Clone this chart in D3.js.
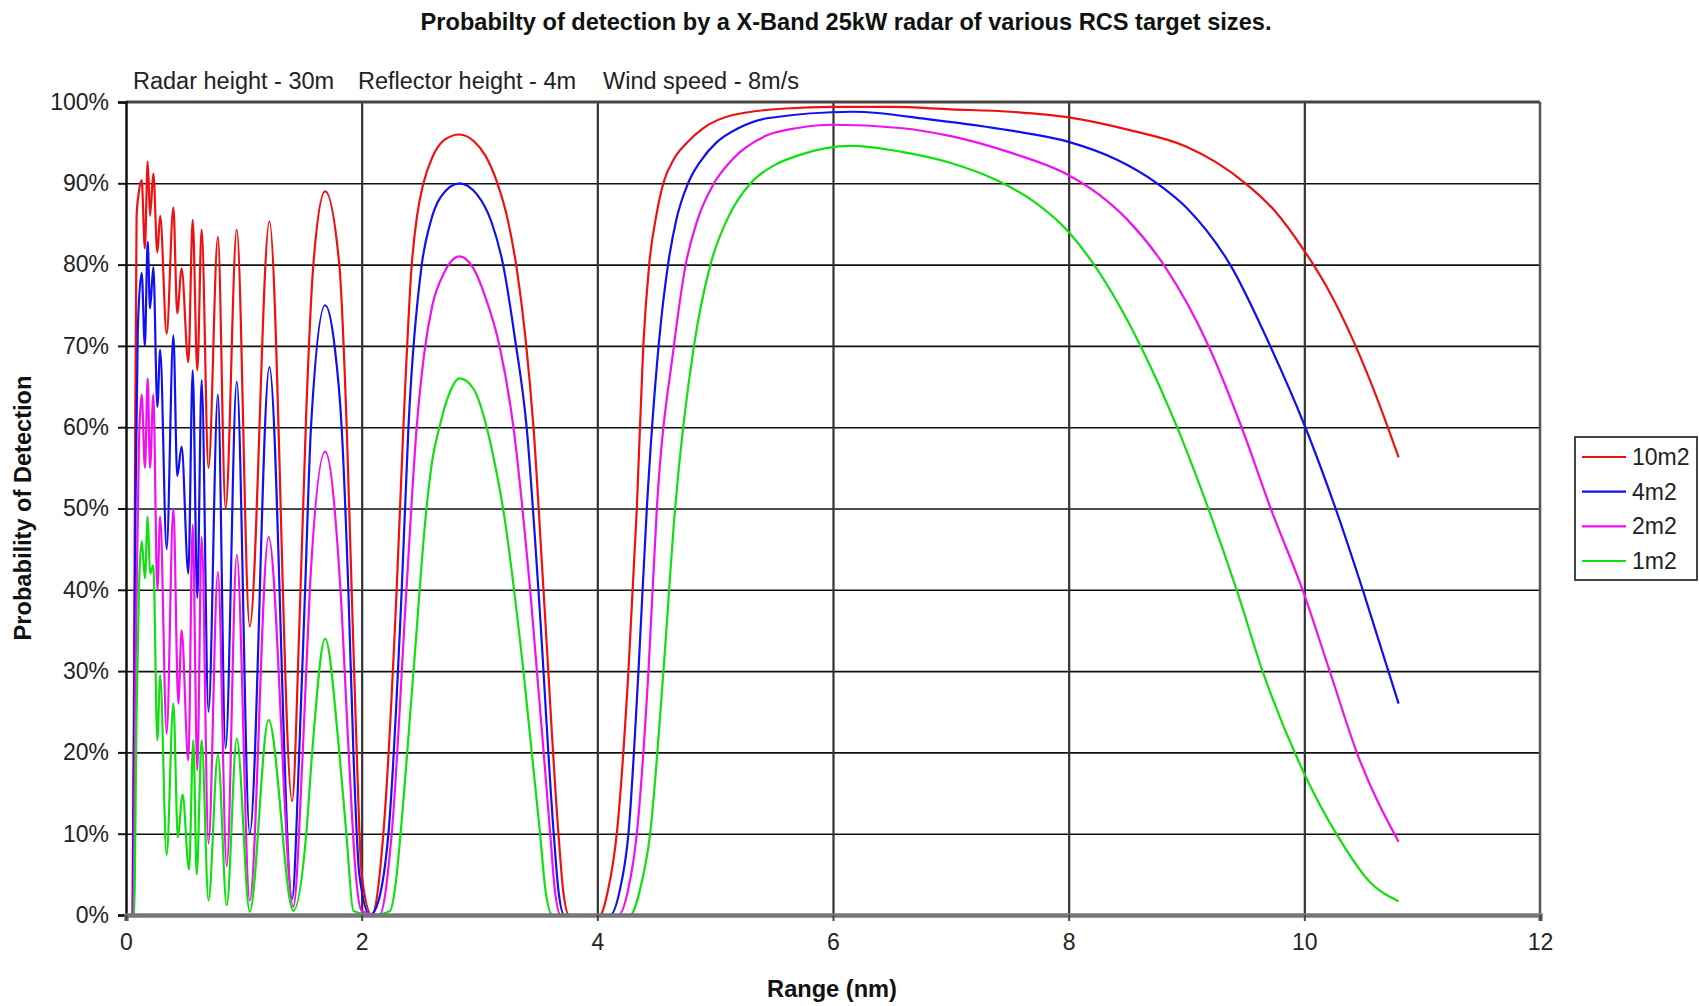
<!DOCTYPE html>
<html><head><meta charset="utf-8">
<script src="https://cdn.jsdelivr.net/npm/d3@7"></script>
<style>
body{margin:0;background:#fff;}
svg{display:block;font-family:"Liberation Sans",Arial,sans-serif;}
</style>
</head><body>
<svg id="chart" width="1699" height="1006"></svg>
<script>
// ---------- data ----------
const titleText = "Probabilty of detection by a X-Band 25kW radar of various RCS target sizes.";
const noteTexts = ["Radar height - 30m", "Reflector height - 4m", "Wind speed - 8m/s"];
const xTitle = "Range (nm)";
const yTitle = "Probability of Detection";
const xTicks = [0, 2, 4, 6, 8, 10, 12];
const yTicks = [0, 10, 20, 30, 40, 50, 60, 70, 80, 90, 100];
const seriesNames = ["10m2", "4m2", "2m2", "1m2"];
const seriesColors = ["#f01010", "#1010f0", "#f010f0", "#10e010"];

// [range nm, probability %]
const rcs10 = [[0,0],[0.055,0],[0.075,50],[0.09,86],[0.11,89],[0.133,90.4],[0.16,82],[0.184,92.7],[0.204,86],[0.232,91.2],[0.266,81.5],[0.29,86],[0.345,71.5],[0.402,87],[0.435,74],[0.472,79.5],[0.529,68],[0.566,85.5],[0.605,67],[0.642,84.3],[0.70,55],[0.78,83.4],[0.845,50],[0.94,84.3],[1.05,35.5],[1.217,85.3],[1.41,14],[1.47,35],[1.53,62],[1.59,80],[1.69,89],[1.81,80],[1.873,60],[1.915,40],[1.958,20],[2.0,5],[2.085,0],[2.184,10],[2.297,40],[2.354,60],[2.425,80],[2.47,86],[2.524,90],[2.6,93.2],[2.7,95.3],[2.83,96],[2.95,95.2],[3.05,93.4],[3.147,90.2],[3.24,85.5],[3.316,79.5],[3.39,71],[3.458,60],[3.543,40],[3.67,10],[3.71,3],[3.76,0],[4.02,0],[4.09,3],[4.165,10],[4.264,30],[4.335,50],[4.39,70],[4.44,80],[4.5,86],[4.56,90],[4.65,93],[4.76,95],[4.9,96.8],[5.15,98.4],[5.6,99.2],[6.0,99.4],[6.5,99.4],[7.0,99.1],[7.5,98.8],[8.0,98.1],[8.5,96.6],[9.0,94.5],[9.25,92.6],[9.5,90],[9.75,86.6],[10.0,81.7],[10.2,77],[10.42,70.5],[10.6,64.2],[10.8,56.3]];
const rcs4 = [[0,0],[0.058,0],[0.08,50],[0.1,72],[0.133,79],[0.16,70],[0.184,82.8],[0.204,74.6],[0.232,79.7],[0.266,62.5],[0.29,69.5],[0.345,45],[0.402,71.3],[0.435,54],[0.472,57.6],[0.529,42],[0.566,67],[0.605,39],[0.642,65.8],[0.70,25],[0.78,64],[0.845,20.5],[0.94,65.6],[1.05,10],[1.217,67.4],[1.41,2],[1.47,20],[1.52,40],[1.57,60],[1.69,75],[1.77,70],[1.83,60],[1.887,40],[1.93,20],[1.98,5],[2.07,0],[2.11,0.5],[2.227,10],[2.34,40],[2.397,60],[2.51,80],[2.58,85],[2.67,88.3],[2.83,90],[2.98,88.6],[3.1,85.3],[3.2,80],[3.3,71],[3.4,60],[3.5,40],[3.63,10],[3.67,3],[3.72,0],[4.11,0],[4.19,3],[4.264,10],[4.349,30],[4.42,50],[4.52,70],[4.6,80],[4.67,85.5],[4.77,90],[4.88,92.8],[5.01,95],[5.2,96.8],[5.44,98],[6.17,98.8],[6.85,97.8],[7.5,96.5],[8.0,95.1],[8.41,92.9],[8.75,90],[9.0,87],[9.37,80],[9.71,70],[10.0,60.3],[10.27,49.8],[10.5,39.8],[10.8,26]];
const rcs2 = [[0,0],[0.06,0],[0.085,35],[0.11,58],[0.133,64],[0.161,55],[0.184,66],[0.204,55],[0.232,64],[0.266,40],[0.29,49],[0.345,22.3],[0.402,50],[0.444,26],[0.472,35],[0.529,19],[0.566,48],[0.605,17.8],[0.642,46.5],[0.70,8.8],[0.78,42.2],[0.855,6],[0.94,44.3],[1.05,1.8],[1.21,46.5],[1.42,1],[1.5,20],[1.56,40],[1.69,57],[1.82,40],[1.89,20],[1.95,5],[2.0,0.5],[2.15,0],[2.255,10],[2.38,40],[2.467,60],[2.53,69],[2.6,75],[2.7,79],[2.83,81],[2.95,79.5],[3.05,76],[3.17,70],[3.288,60],[3.43,40],[3.6,10],[3.64,3],[3.69,0],[4.18,0],[4.26,3],[4.335,10],[4.434,30],[4.505,50],[4.65,70],[4.75,80],[4.85,85.5],[4.99,90],[5.15,93],[5.44,95.9],[5.7,96.8],[6.0,97.2],[6.57,96.8],[7.0,95.8],[7.5,93.8],[8.0,91],[8.25,88.7],[8.5,85.5],[8.81,79.9],[9.19,69.9],[9.47,59.9],[9.72,49.8],[9.99,39.8],[10.22,29.8],[10.45,19.8],[10.8,9]];
const rcs1 = [[0,0],[0.068,0],[0.09,25],[0.11,40],[0.133,46],[0.161,41.4],[0.184,49],[0.204,42],[0.232,43],[0.266,21.5],[0.29,29.5],[0.345,7.4],[0.402,26],[0.44,9.6],[0.48,14.8],[0.535,5.6],[0.571,21.5],[0.6,5],[0.642,21.5],[0.70,1.8],[0.78,19.7],[0.855,1.2],[0.94,21.7],[1.05,0.4],[1.21,24],[1.42,0.5],[1.53,10],[1.58,20],[1.69,34],[1.81,20],[1.87,10],[1.93,0.5],[2.1,0],[2.24,0.5],[2.29,4],[2.33,10],[2.44,30],[2.55,50],[2.6,56],[2.66,60],[2.74,64],[2.83,66],[2.95,64.7],[3.061,60],[3.13,55.5],[3.2,50],[3.373,30],[3.514,10],[3.56,3],[3.62,0],[4.28,0],[4.36,3],[4.448,10],[4.561,30],[4.66,50],[4.82,70],[4.96,80],[5.1,85.5],[5.3,90],[5.5,92.2],[5.72,93.5],[6.15,94.6],[6.57,93.9],[7.0,92.5],[7.4,90.3],[7.7,87.8],[8.0,84],[8.2,80.3],[8.61,70],[8.92,60],[9.19,49.8],[9.43,39.8],[9.65,29.8],[9.97,18.3],[10.3,9.3],[10.56,4],[10.8,1.7]];
const seriesData = [rcs10, rcs4, rcs2, rcs1];

// ---------- drawing ----------
const svg = d3.select("#chart");
const L = 126, R = 1540, T = 102, B = 915;
const x = d3.scaleLinear().domain([0, 12]).range([L, R]);
const y = d3.scaleLinear().domain([0, 100]).range([B, T]);
const FONT = "Liberation Sans, Arial, sans-serif";

svg.append("rect").attr("width", 1699).attr("height", 1006).attr("fill", "#fff");
svg.append("defs").append("clipPath").attr("id", "plotclip")
  .append("rect").attr("x", L).attr("y", T - 4).attr("width", R - L).attr("height", B - T + 5);

// horizontal gridlines
svg.append("g").attr("transform", `translate(${L},0)`)
  .call(d3.axisLeft(y).tickValues(yTicks.filter(v => v > 0 && v < 100)).tickSize(-(R - L)).tickFormat(""))
  .call(g => g.select(".domain").remove())
  .call(g => g.selectAll("line").attr("stroke", "#111").attr("stroke-width", 1.6));

// vertical gridlines
svg.append("g").attr("transform", `translate(0,${T})`)
  .call(d3.axisBottom(x).tickValues(xTicks.filter(v => v > 0 && v < 12)).tickSize(B - T).tickFormat(""))
  .call(g => g.select(".domain").remove())
  .call(g => g.selectAll("line").attr("stroke", "#333").attr("stroke-width", 2.2));

// curves
const line = d3.line().x(d => x(d[0])).y(d => y(d[1])).curve(d3.curveMonotoneX);
svg.append("g").attr("clip-path", "url(#plotclip)").selectAll("path").data(seriesData).join("path")
  .attr("d", line)
  .attr("fill", "none")
  .attr("stroke", (d, i) => seriesColors[i])
  .attr("stroke-width", 2.2)
  .attr("stroke-linejoin", "round");

// frame
svg.append("line").attr("x1", L).attr("x2", R).attr("y1", y(100)).attr("y2", y(100)).attr("stroke", "#444").attr("stroke-width", 3);
svg.append("line").attr("x1", R).attr("x2", R).attr("y1", T).attr("y2", B).attr("stroke", "#555").attr("stroke-width", 2.5);

// y axis
const yAxis = svg.append("g").attr("transform", `translate(${L},0)`)
  .call(d3.axisLeft(y).tickValues(yTicks).tickSize(8).tickPadding(9).tickFormat(d => d + "%"));
yAxis.select(".domain").attr("stroke", "#111").attr("stroke-width", 2.5);
yAxis.selectAll("line").attr("stroke", "#111").attr("stroke-width", 2);
yAxis.selectAll("text").attr("font-size", 23).attr("fill", "#222").attr("font-family", FONT);

// x axis
const xAxis = svg.append("g").attr("transform", `translate(0,${B})`)
  .call(d3.axisBottom(x).tickValues(xTicks).tickSize(6).tickPadding(13).tickFormat(d3.format("d")));
xAxis.select(".domain").attr("stroke", "#777").attr("stroke-width", 4.5);
xAxis.selectAll("line").attr("stroke", "#444").attr("stroke-width", 2);
xAxis.selectAll("text").attr("font-size", 23).attr("fill", "#222").attr("font-family", FONT);

// titles
svg.append("text").attr("x", 846).attr("y", 30).attr("text-anchor", "middle")
  .attr("font-size", 23.6).attr("font-weight", "bold").attr("fill", "#111").text(titleText);
const noteX = [133, 358, 603];
svg.append("g").selectAll("text").data(noteTexts).join("text")
  .attr("x", (d, i) => noteX[i]).attr("y", 89).attr("font-size", 23.5).attr("fill", "#222").text(d => d);
svg.append("text").attr("x", 832).attr("y", 997).attr("text-anchor", "middle")
  .attr("font-size", 23.6).attr("font-weight", "bold").attr("fill", "#111").text(xTitle);
svg.append("text").attr("transform", "translate(31,508) rotate(-90)").attr("text-anchor", "middle")
  .attr("font-size", 23.6).attr("font-weight", "bold").attr("fill", "#111").text(yTitle);

// legend
const lg = svg.append("g");
lg.append("rect").attr("x", 1575).attr("y", 437).attr("width", 122).attr("height", 143)
  .attr("fill", "#fff").attr("stroke", "#444").attr("stroke-width", 2);
const legY = d3.scalePoint().domain(seriesNames).range([457, 561]);
const items = lg.selectAll("g.item").data(seriesNames).join("g").attr("class", "item");
items.append("line").attr("x1", 1582).attr("x2", 1626).attr("y1", d => legY(d)).attr("y2", d => legY(d))
  .attr("stroke", (d, i) => seriesColors[i]).attr("stroke-width", 2.2);
items.append("text").attr("x", 1632).attr("y", d => legY(d) + 8).attr("font-size", 23).attr("fill", "#222").text(d => d);
</script>
</body></html>
